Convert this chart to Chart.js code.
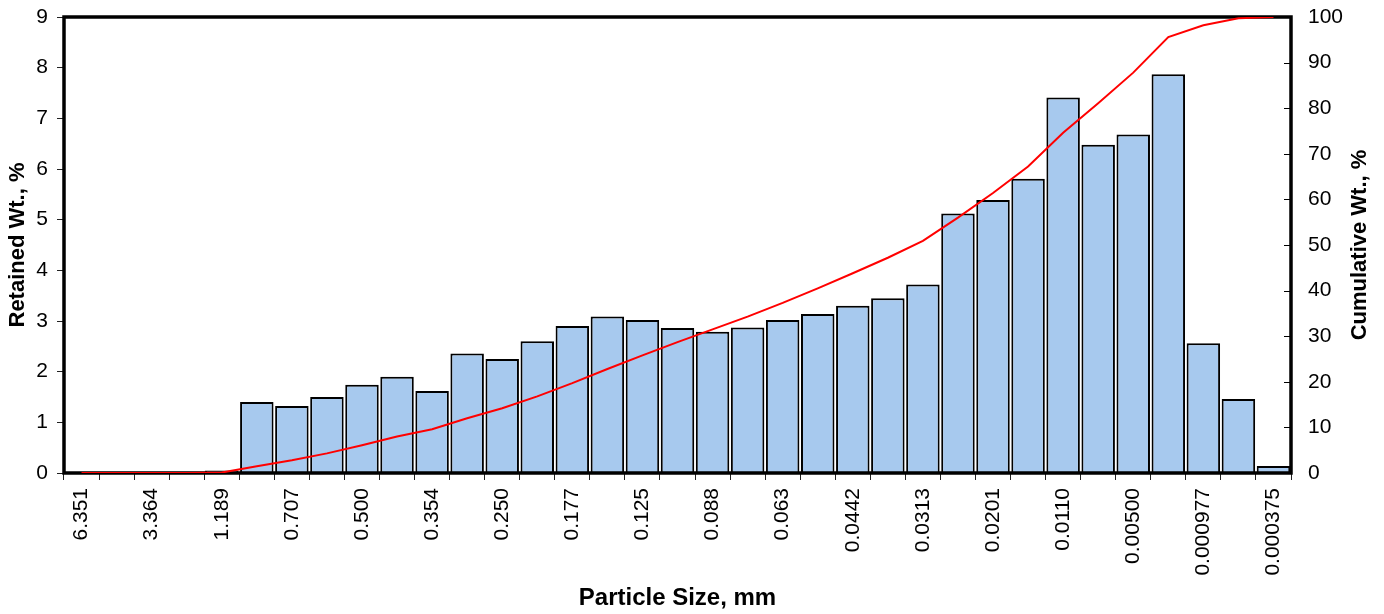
<!DOCTYPE html>
<html>
<head>
<meta charset="utf-8">
<title>Particle Size Distribution</title>
<script src="https://cdn.jsdelivr.net/npm/chart.js@4.4.1/dist/chart.umd.min.js"></script>
<style>
  html, body { margin: 0; padding: 0; background: #ffffff; }
  #wrap { width: 1384px; height: 614px; }
</style>
</head>
<body>
<div id="wrap"><canvas id="psd" width="1384" height="614"></canvas></div>
<script>
// Sieve sizes (mm); only every other class is labelled on the axis
const sizeLabels = [
  '6.351', '', '3.364', '', '1.189', '', '0.707', '', '0.500', '',
  '0.354', '', '0.250', '', '0.177', '', '0.125', '', '0.088', '',
  '0.063', '', '0.0442', '', '0.0313', '', '0.0201', '', '0.0110', '',
  '0.00500', '', '0.000977', '', '0.000375'
];

// Weight retained in each size class, %
const retainedWt = [
  0, 0, 0, 0, 0.05, 1.40, 1.32, 1.50, 1.74, 1.90,
  1.62, 2.36, 2.25, 2.60, 2.90, 3.09, 3.02, 2.86, 2.79, 2.87,
  3.02, 3.14, 3.30, 3.45, 3.72, 5.12, 5.39, 5.81, 7.41, 6.48,
  6.68, 7.87, 2.56, 1.46, 0.14
];

// Cumulative weight, %
const cumulativeWt = [
  0, 0, 0, 0, 0.1, 1.5, 2.8, 4.3, 6.1, 8.0,
  9.6, 12.0, 14.2, 16.8, 19.7, 22.8, 25.8, 28.7, 31.5, 34.3,
  37.3, 40.5, 43.8, 47.2, 50.9, 56.0, 61.4, 67.2, 74.6, 81.1,
  87.8, 95.6, 98.2, 99.7, 100
];

const FONT = '"Liberation Sans", Arial, Helvetica, sans-serif';

// Black box round the plot area (drawn over the bars, under the line),
// inward tick marks on the right axis, and the right-hand axis title.
const framePlugin = {
  id: 'plotFrame',
  afterDatasetDraw(chart, args) {
    if (args.index !== 1) return;
    const { ctx, chartArea: a } = chart;
    ctx.save();
    ctx.strokeStyle = '#000000';
    ctx.lineWidth = 3.5;
    ctx.strokeRect(a.left, a.top, a.right - a.left, a.bottom - a.top);
    const s = chart.scales.y1;
    ctx.lineWidth = 1;
    ctx.beginPath();
    s.ticks.forEach(t => {
      const y = Math.round(s.getPixelForValue(t.value)) + 0.5;
      ctx.moveTo(a.right - 7, y);
      ctx.lineTo(a.right, y);
    });
    ctx.stroke();
    ctx.restore();
  },
  afterDraw(chart) {
    const { ctx, chartArea: a } = chart;
    ctx.save();
    ctx.fillStyle = '#000000';
    ctx.font = 'bold 22px ' + FONT;
    ctx.textAlign = 'center';
    ctx.textBaseline = 'middle';
    ctx.translate(1360, (a.top + a.bottom) / 2);
    ctx.rotate(-Math.PI / 2);
    ctx.fillText('Cumulative Wt., %', 0, 0);
    ctx.restore();
  }
};

// Fixed axis boxes so the plot area keeps its place
function fixVertical(width) {
  return function (scale) {
    scale.width = width;
    scale.paddingTop = 0;
    scale.paddingBottom = 0;
  };
}

new Chart(document.getElementById('psd'), {
  type: 'bar',
  data: {
    labels: sizeLabels,
    datasets: [
      {
        type: 'line',
        label: 'Cumulative Wt., %',
        data: cumulativeWt,
        yAxisID: 'y1',
        borderColor: '#ff0000',
        borderWidth: 2,
        pointRadius: 0,
        tension: 0,
        fill: false
      },
      {
        type: 'bar',
        label: 'Retained Wt., %',
        data: retainedWt,
        yAxisID: 'y',
        backgroundColor: '#a7c9ee',
        borderColor: '#000000',
        borderWidth: 2,
        barPercentage: 0.955,
        categoryPercentage: 1.0
      }
    ]
  },
  options: {
    responsive: false,
    animation: false,
    devicePixelRatio: 1,
    layout: { padding: { top: 17, right: 0, bottom: 0, left: 0 } },
    plugins: {
      legend: { display: false },
      tooltip: { enabled: false }
    },
    scales: {
      x: {
        offset: true,
        afterFit(scale) {
          scale.height = 141;
          scale.paddingLeft = 0;
          scale.paddingRight = 0;
        },
        border: { display: false },
        grid: {
          offset: true,
          drawOnChartArea: false,
          drawTicks: true,
          tickLength: 7,
          color: '#222222',
          lineWidth: 1
        },
        ticks: {
          autoSkip: false,
          minRotation: 90,
          maxRotation: 90,
          padding: 8,
          color: '#000000',
          font: { family: FONT, size: 21 }
        },
        title: {
          display: true,
          text: 'Particle Size, mm',
          color: '#000000',
          font: { family: FONT, size: 24, weight: 'bold' },
          padding: { top: 0, bottom: 1 }
        }
      },
      y: {
        position: 'left',
        min: 0,
        max: 9,
        afterFit: fixVertical(64),
        border: { display: false },
        grid: {
          drawOnChartArea: false,
          drawTicks: true,
          tickLength: 7,
          color: '#222222',
          lineWidth: 1
        },
        ticks: {
          stepSize: 1,
          padding: 9,
          color: '#000000',
          font: { family: FONT, size: 21 }
        },
        title: {
          display: true,
          text: 'Retained Wt., %',
          color: '#000000',
          font: { family: FONT, size: 22, weight: 'bold' },
          padding: { top: 5, bottom: 0 }
        }
      },
      y1: {
        position: 'right',
        min: 0,
        max: 100,
        afterFit: fixVertical(93),
        border: { display: false },
        grid: {
          drawOnChartArea: false,
          drawTicks: true,
          tickLength: 6,
          color: 'rgba(0,0,0,0)'
        },
        ticks: {
          stepSize: 10,
          padding: 11,
          color: '#000000',
          font: { family: FONT, size: 21 }
        }
      }
    }
  },
  plugins: [framePlugin]
});
</script>
</body>
</html>
